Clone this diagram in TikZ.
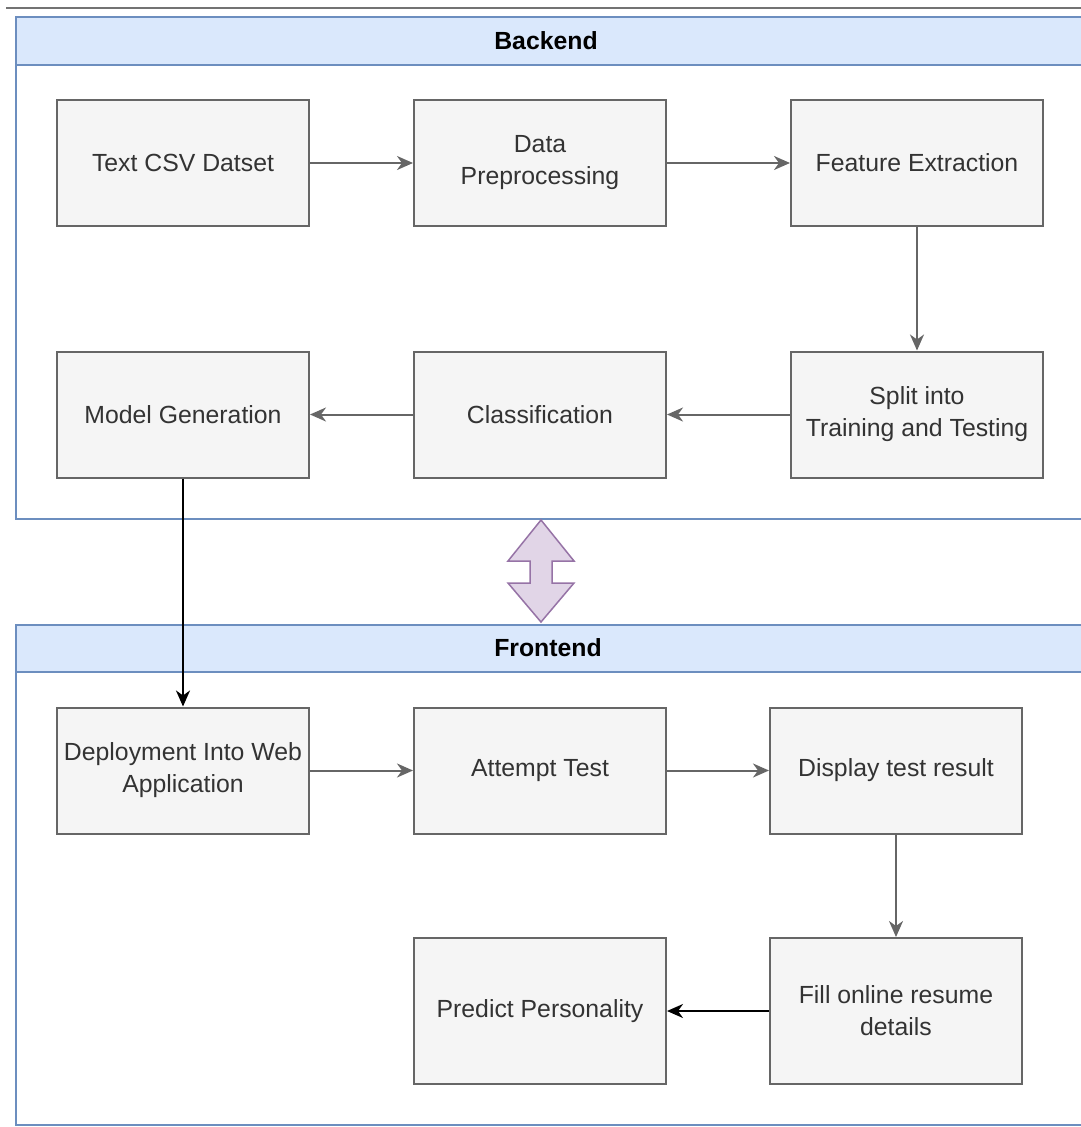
\documentclass[tikz,border=0pt]{standalone}
\usepackage{fontspec}
\setmainfont{Liberation Sans}
\usetikzlibrary{arrows.meta}
\definecolor{boxfill}{HTML}{F5F5F5}
\definecolor{boxline}{HTML}{666666}
\definecolor{boxtext}{HTML}{333333}
\definecolor{hdrfill}{HTML}{DAE8FC}
\definecolor{hdrline}{HTML}{6C8EBF}
\definecolor{dafill}{HTML}{E1D5E7}
\definecolor{daline}{HTML}{9673A6}
\tikzset{
  stepbox/.style={draw=boxline, fill=boxfill, line width=2pt, minimum width=252pt, minimum height=126pt,
    text=boxtext, align=center, inner sep=2pt, font=\fontsize{24.8}{32}\selectfont},
  grayarr/.style={draw=boxline, line width=2pt, -{Stealth[length=16pt,width=14pt,inset=5pt]}},
  blackarr/.style={draw=black, line width=2pt, -{Stealth[length=16pt,width=14pt,inset=5pt]}},
  contbox/.style={draw=hdrline, line width=2pt},
  hdrbox/.style={draw=hdrline, fill=hdrfill, line width=2pt},
  hdrtext/.style={font=\fontsize{24.8}{30}\selectfont\bfseries, text=black}
}
\begin{document}
\begin{tikzpicture}[x=1pt,y=-1pt]
\useasboundingbox (0,0) rectangle (1080,1127);
% top line
\draw[draw=black!55, line width=2pt] (6,8) -- (1082,8);
% Backend container
\draw[contbox] (16,17) rectangle (1084,519);
\draw[hdrbox] (16,17) rectangle (1084,65);
\node[hdrtext] (backend) at (546,41) {Backend};
% Frontend container
\draw[contbox] (16,625) rectangle (1084,1125);
\draw[hdrbox] (16,625) rectangle (1084,672);
\node[hdrtext] (frontend) at (548,648) {Frontend};
% double arrow
\draw[fill=dafill, draw=daline, line width=1.5pt, line join=miter]
  (541,520) -- (574,561) -- (552,561) -- (552,583) -- (574,583) -- (541,622)
  -- (508,583) -- (530,583) -- (530,561) -- (508,561) -- cycle;
% boxes
\node[stepbox] (csv) at (183,163) {Text CSV Datset};
\node[stepbox] (prep) at (540,163) {Data\\Preprocessing};
\node[stepbox] (feat) at (917,163) {Feature Extraction};
\node[stepbox] (model) at (183,414.5) {Model Generation};
\node[stepbox] (class) at (540,414.5) {Classification};
\node[stepbox] (split) at (917,414.5) {Split into\\Training and Testing};
\node[stepbox] (deploy) at (183,770.5) {Deployment Into Web\\Application};
\node[stepbox] (attempt) at (540,770.5) {Attempt Test};
\node[stepbox] (display) at (896,770.5) {Display test result};
\node[stepbox, minimum height=146pt] (predict) at (540,1011) {Predict Personality};
\node[stepbox, minimum height=146pt] (fill) at (896,1011) {Fill online resume\\details};
% connectors
\draw[grayarr] (csv) -- (prep);
\draw[grayarr] (prep) -- (feat);
\draw[grayarr] (feat) -- (split);
\draw[grayarr] (split) -- (class);
\draw[grayarr] (class) -- (model);
\draw[blackarr] (model) -- (deploy);
\draw[grayarr] (deploy) -- (attempt);
\draw[grayarr] (attempt) -- (display);
\draw[grayarr] (display) -- (fill);
\draw[blackarr] (fill) -- (predict);
\end{tikzpicture}
\end{document}
